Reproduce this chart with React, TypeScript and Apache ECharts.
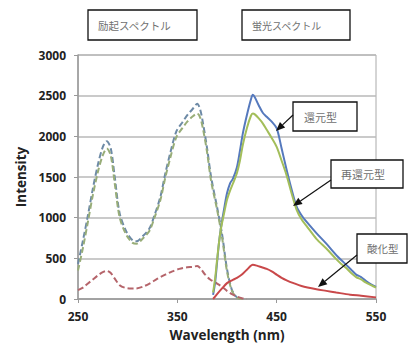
import React, { useEffect, useRef } from "react";
import * as echarts from "echarts";

// Excitation spectra (dashed)
const exNm = [250, 255, 260, 265, 270, 275, 279, 283, 287, 292, 299, 305, 309, 315, 322, 327, 333, 338, 343, 349, 355, 360, 365, 370, 373, 376, 380, 384, 390, 395, 400, 405, 410, 415];
const exReduced = [430, 720, 1030, 1360, 1650, 1870, 1940, 1850, 1500, 1050, 820, 720, 710, 770, 870, 1030, 1260, 1550, 1800, 2060, 2170, 2260, 2330, 2400, 2330, 2150, 1850, 1500, 1130, 800, 370, 110, 20, 0];
const exReReduced = [350, 630, 950, 1280, 1560, 1770, 1850, 1760, 1420, 1000, 780, 690, 680, 740, 840, 1000, 1220, 1500, 1740, 1990, 2100, 2180, 2240, 2280, 2230, 2080, 1800, 1450, 1100, 760, 340, 100, 15, 0];
const exOxNm = [250, 255, 260, 265, 270, 275, 279, 283, 287, 292, 297, 303, 308, 315, 322, 330, 338, 345, 352, 360, 365, 370, 373, 378, 383, 390, 395, 400, 405, 410, 415, 420];
const exOxidized = [110, 140, 190, 240, 290, 330, 345, 320, 250, 170, 140, 130, 130, 150, 190, 250, 300, 340, 370, 390, 395, 405, 380, 300, 240, 190, 150, 100, 60, 30, 10, 0];

// Emission spectra (solid)
const emNm = [386, 388, 390, 392, 394, 397, 400, 403, 406, 410, 413, 416, 420, 424, 426, 428, 432, 436, 440, 445, 450, 455, 460, 465, 470, 475, 480, 490, 500, 510, 515, 520, 525, 530, 535, 540, 545, 550];
const emReduced = [50, 200, 450, 700, 880, 1100, 1300, 1420, 1480, 1620, 1820, 2040, 2260, 2450, 2510, 2480, 2380, 2290, 2240, 2180, 2100, 1850, 1590, 1350, 1140, 1030, 950, 810, 680, 540, 480, 420, 360, 300, 270, 220, 180, 150];
const emReReduced = [80, 250, 480, 700, 870, 1050, 1220, 1330, 1420, 1550, 1700, 1900, 2100, 2250, 2280, 2270, 2220, 2160, 2080, 1980, 1870, 1700, 1520, 1300, 1100, 980, 900, 740, 620, 490, 430, 380, 320, 270, 240, 200, 170, 140];
const emOxNm = [386, 390, 395, 400, 405, 410, 415, 420, 426, 430, 435, 440, 445, 450, 455, 460, 467, 475, 490, 500, 510, 524, 535, 550];
const emOxidized = [0, 60, 130, 195, 230, 260, 300, 360, 420, 410, 390, 370, 340, 300, 260, 230, 195, 160, 120, 100, 80, 53, 40, 20];

const xTicks = { min: 250, max: 550, interval: 100 };
const yTicks = { min: 0, max: 3000, interval: 500 };

const headerLabels = ["励起スペクトル", "蛍光スペクトル"];
const calloutLabels = ["還元型", "再還元型", "酸化型"];

const zip = (xs: number[], ys: number[]) => xs.map((x, i) => [x, ys[i]]);

const COLORS = {
  blue: "#5579bd",
  green: "#a3be5a",
  red: "#c9484a",
  blueDash: "#6d8aa6",
  greenDash: "#98ad78",
  redDash: "#b5646a",
};

function arrow(sx: number, sy: number, ex: number, ey: number) {
  const dx = ex - sx;
  const dy = ey - sy;
  const len = Math.sqrt(dx * dx + dy * dy);
  const ux = dx / len;
  const uy = dy / len;
  const hl = 9;
  const hw = 3.8;
  const bx = ex - ux * hl;
  const by = ey - uy * hl;
  return [
    {
      type: "line",
      shape: { x1: sx, y1: sy, x2: bx, y2: by },
      style: { stroke: "#111", lineWidth: 1.2 },
      z: 100,
    },
    {
      type: "polygon",
      shape: {
        points: [
          [ex, ey],
          [bx - uy * hw, by + ux * hw],
          [bx + uy * hw, by - ux * hw],
        ],
      },
      style: { fill: "#111" },
      z: 100,
    },
  ];
}

function box(x: number, y: number, w: number, h: number, text: string, tx: number, size: number) {
  return [
    {
      type: "rect",
      shape: { x, y, width: w, height: h },
      style: { fill: "#fff", stroke: "#111", lineWidth: 1.3 },
      z: 100,
    },
    {
      type: "text",
      x: tx,
      y: y + h / 2,
      style: {
        text,
        fontSize: size,
        fontFamily: "Noto Sans CJK JP",
        fill: "#707070",
        align: "left",
        verticalAlign: "middle",
      },
      z: 101,
    },
  ];
}

export default function App() {
  const ref = useRef<HTMLDivElement>(null);
  useEffect(() => {
    if (!ref.current) return;
    const chart = echarts.init(ref.current, undefined, { renderer: "svg" });
    const tickFont = { fontFamily: "Open Sans", fontWeight: "bold" as const, fontSize: 12, color: "#222" };
    const dashed = (name: string, data: number[][], color: string) => ({
      name,
      type: "line",
      data,
      showSymbol: false,
      smooth: 0.3,
      lineStyle: { color, width: 2, type: [6, 3] },
      z: 2,
    });
    const solid = (name: string, data: number[][], color: string) => ({
      name,
      type: "line",
      data,
      showSymbol: false,
      smooth: 0.3,
      lineStyle: { color, width: 2 },
      z: 3,
    });
    chart.setOption({
      animation: false,
      grid: {
        left: 78,
        right: 33,
        top: 55,
        bottom: 46,
        show: true,
        borderColor: "#aaa",
        borderWidth: 1,
      },
      xAxis: {
        type: "value",
        min: xTicks.min,
        max: xTicks.max,
        interval: xTicks.interval,
        name: "Wavelength (nm)",
        nameLocation: "middle",
        nameGap: 29,
        nameTextStyle: { fontFamily: "Open Sans", fontWeight: "bold", fontSize: 13.5, color: "#222" },
        axisLine: { show: true, lineStyle: { color: "#999", width: 1.5 } },
        axisTick: { show: true, length: 4, lineStyle: { color: "#999" } },
        axisLabel: { ...tickFont, margin: 11, formatter: (v: number) => String(v) },
        splitLine: { show: false },
      },
      yAxis: {
        type: "value",
        min: yTicks.min,
        max: yTicks.max,
        interval: yTicks.interval,
        name: "Intensity",
        nameLocation: "middle",
        nameGap: 44,
        nameTextStyle: { fontFamily: "Open Sans", fontWeight: "bold", fontSize: 13.5, color: "#222" },
        axisLine: { show: true, lineStyle: { color: "#999", width: 1.5 } },
        axisTick: { show: true, length: 4, lineStyle: { color: "#999" } },
        axisLabel: { ...tickFont, margin: 12, formatter: (v: number) => String(v) },
        splitLine: { show: true, lineStyle: { color: "#b9b9b9", width: 1.5 } },
      },
      series: [
        dashed("励起 還元型", zip(exNm, exReduced), COLORS.blueDash),
        dashed("励起 再還元型", zip(exNm, exReReduced), COLORS.greenDash),
        dashed("励起 酸化型", zip(exOxNm, exOxidized), COLORS.redDash),
        solid("蛍光 還元型", zip(emNm, emReduced), COLORS.blue),
        solid("蛍光 再還元型", zip(emNm, emReReduced), COLORS.green),
        solid("蛍光 酸化型", zip(emOxNm, emOxidized), COLORS.red),
      ],
      graphic: [
        ...box(88, 10, 109, 30, headerLabels[0], 98, 10.5),
        ...box(242, 10, 108, 30, headerLabels[1], 252, 10),
        ...box(293, 102, 64, 29, calloutLabels[0], 304, 11),
        ...box(331, 160, 72, 28, calloutLabels[1], 341, 11),
        ...box(357, 234, 50, 29, calloutLabels[2], 367, 10.5),
        ...arrow(293, 115, 276, 131),
        ...arrow(331, 180, 293, 206),
        ...arrow(357, 255, 318, 287),
      ],
    });
    return () => chart.dispose();
  }, []);
  return <div ref={ref} style={{ width: 409, height: 347, position: "absolute", left: 0, top: 0 }} />;
}
